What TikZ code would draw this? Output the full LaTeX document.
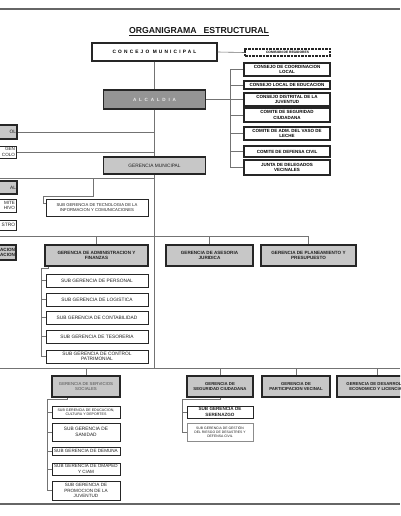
\documentclass[tikz,border=0pt]{standalone}
\usepackage{fontspec}
\setmainfont{Liberation Sans}
\usetikzlibrary{calc}
\begin{document}
\begin{tikzpicture}[x=1pt,y=-1pt,
 conn/.style={draw=black!55, line width=0.6pt},
 base/.style={draw=black!85, line width=1.2pt, inner sep=0pt, align=center, text=black!88, font=\fontsize{4.8}{5.6}\selectfont},
 gbox/.style={base, fill=black!22},
 gboxb/.style={gbox, font=\bfseries\fontsize{4.6}{5.6}\selectfont},
 wbox/.style={base, fill=white, line width=1pt},
 cbox/.style={base, fill=white, line width=1.1pt, text=black, font=\bfseries\fontsize{4.5}{5.2}\selectfont},
 sz/.style 2 args={minimum width=#1, minimum height=#2},
 rulebar/.style={draw=black!60, line width=1.6pt}]
\useasboundingbox (0,0) rectangle (400,516);
\clip (0,0) rectangle (400,516);
\fill[white] (0,0) rectangle (400,516);

% frame rules
\coordinate (tl) at (0,9); \coordinate (tr) at (400,9);
\coordinate (bl) at (0,504); \coordinate (br) at (400,504);
\draw[rulebar] (tl) -- (tr);
\draw[rulebar] (bl) -- (br);

\node[font=\bfseries\fontsize{8.7}{10}\selectfont, text=black!90] (title) at (199,31.5) {\underline{ORGANIGRAMA\hspace{0.8em}ESTRUCTURAL}};

% top
\node[wbox, line width=1.2pt, sz={125}{18}, text=black, font=\bfseries\fontsize{4.8}{5}\selectfont\addfontfeatures{LetterSpace=45}] (concejo) at (154.5,52) {CONCEJO MUNICIPAL};
\node[gbox, fill=black!42, sz={102}{19}, text=black!8, font=\bfseries\fontsize{4.6}{5}\selectfont\addfontfeatures{LetterSpace=60}] (alc) at (154.5,99.5) {ALCALDIA};
\node[base, dashed, dash pattern=on 2.5pt off 1pt, fill=white, sz={85}{7}, text=black, font=\bfseries\fontsize{3.3}{4}\selectfont] (com) at (287.5,52.5) {COMISION DE REGIDORES};

% consejos
\node[cbox, sz={86}{13}] (c1) at (287,69.5) {CONSEJO DE COORDINACION\\LOCAL};
\node[cbox, sz={86}{8}] (c2) at (287,85) {CONSEJO LOCAL DE EDUCACION};
\node[cbox, sz={86}{13}] (c3) at (287,99.5) {CONSEJO DISTRITAL DE LA\\JUVENTUD};
\node[cbox, sz={86}{14}] (c4) at (287,115) {COMITE DE SEGURIDAD\\CIUDADANA};
\node[cbox, sz={86}{13}] (c5) at (287,133.5) {COMITE DE ADM. DEL VASO DE\\LECHE};
\node[cbox, sz={86}{11}] (c6) at (287,151.5) {COMITE DE DEFENSA CIVIL};
\node[cbox, sz={86}{15}] (c7) at (287,167.5) {JUNTA DE DELEGADOS\\VECINALES};

\node[gbox, sz={102}{17}] (gm) at (154.5,165.5) {GERENCIA MUNICIPAL};

% left cut-off boxes
\node[gbox, sz={40}{14}, text width=38, align=right] (l1) at (-3,132) {OL};
\node[wbox, sz={40}{12}, text width=38, align=right, font=\fontsize{4.6}{5.4}\selectfont] (l2) at (-4,152) {GEN\\COLO};
\node[gbox, sz={40}{13}, text width=38, align=right] (l3) at (-3,187.5) {AL};
\node[wbox, sz={40}{13}, text width=38, align=right, font=\fontsize{4.6}{5.4}\selectfont] (l4) at (-4,205.5) {MITE\\HIVO};
\node[wbox, sz={40}{10}, text width=38, align=right] (l5) at (-4,225) {STRO};
\node[gboxb, sz={40}{15}, text width=38, align=right] (l6) at (-4,252.5) {ACION\\ACION};

\node[wbox, sz={102}{17}, font=\fontsize{4.2}{5}\selectfont] (tech) at (97,207.5) {SUB GERENCIA DE TECNOLOGIA DE LA\\INFORMACION Y COMUNICACIONES};

% gerencias row 1
\node[gboxb, sz={103}{21}] (adm) at (96.5,255.5) {GERENCIA DE ADMINISTRACION Y\\FINANZAS};
\node[gboxb, sz={87}{21}] (ases) at (209.5,255.5) {GERENCIA DE ASESORIA\\JURIDICA};
\node[gboxb, sz={95}{21}] (plan) at (308.5,255.5) {GERENCIA DE PLANEAMIENTO Y\\PRESUPUESTO};

% admin subs
\node[wbox, sz={102}{13}] (s1) at (97,280.5) {SUB GERENCIA DE PERSONAL};
\node[wbox, sz={102}{13}] (s2) at (97,299.5) {SUB GERENCIA DE LOGISTICA};
\node[wbox, sz={102}{13}] (s3) at (97,317.5) {SUB GERENCIA DE CONTABILIDAD};
\node[wbox, sz={102}{13}] (s4) at (97,336.5) {SUB GERENCIA DE TESORERIA};
\node[wbox, sz={102}{13}] (s5) at (97,356.5) {SUB GERENCIA DE CONTROL\\PATRIMONIAL};

% gerencias row 2
\node[gbox, sz={68}{21}, text=black!70, font=\fontsize{4.3}{5.6}\selectfont] (serv) at (86,386.5) {GERENCIA DE SERVICIOS\\SOCIALES};
\node[gboxb, sz={66}{21}, font=\bfseries\fontsize{4.3}{5.6}\selectfont] (seg) at (220,386.5) {GERENCIA DE\\SEGURIDAD CIUDADANA};
\node[gboxb, sz={68}{21}, font=\bfseries\fontsize{4.3}{5.6}\selectfont] (part) at (296,386.5) {GERENCIA DE\\PARTICIPACION VECINAL};
\node[gboxb, sz={80}{21}, font=\bfseries\fontsize{4.3}{5.6}\selectfont] (des) at (377,386.5) {GERENCIA DE DESARROLLO\\ECONOMICO Y LICENCIAS};

% servicios subs
\node[wbox, sz={68}{12}, font=\fontsize{3.6}{4.4}\selectfont] (ss1) at (86,412) {SUB GERENCIA DE EDUCACION,\\CULTURA Y DEPORTES};
\node[wbox, sz={68}{18}, font=\fontsize{4.8}{5.8}\selectfont] (ss2) at (86,432) {SUB GERENCIA DE\\SANIDAD};
\node[wbox, sz={68}{8}, font=\fontsize{4.6}{5.4}\selectfont] (ss3) at (86,451) {SUB GERENCIA DE DEMUNA};
\node[wbox, sz={68}{12}, font=\fontsize{4.6}{5.4}\selectfont] (ss4) at (86,469) {SUB GERENCIA DE OMAPED\\Y CIAM};
\node[wbox, sz={68}{19}, font=\fontsize{4.6}{5.4}\selectfont] (ss5) at (86,490.5) {SUB GERENCIA DE\\PROMOCION DE LA\\JUVENTUD};

% seguridad subs
\node[wbox, sz={66}{12}, font=\bfseries\fontsize{4.6}{5.4}\selectfont] (sc1) at (220,412) {SUB GERENCIA DE\\SERENAZGO};
\node[wbox, draw=black!45, line width=0.7pt, sz={66}{18}, font=\fontsize{3.4}{4.2}\selectfont] (sc2) at (220,432) {SUB GERENCIA DE GESTIÓN\\DEL RIESGO DE DESASTRES Y\\DEFENSA CIVIL};

% ---- connectors ----
\draw[conn] (concejo.south) -- (alc.north);
\draw[conn] (alc.south) -- (gm.north);
\draw[conn] (concejo.east) -- (com.west);

\coordinate (csp) at (230,69.5);
\coordinate (cspe) at (230,167.5);
\draw[conn] (csp) -- (cspe);
\draw[conn] (alc.east) -- (alc.east -| csp);
\foreach \c in {c1,c2,c3,c4,c5,c6,c7}{\draw[conn] (\c.west -| csp) -- (\c.west);}

\draw[conn] (l1.east) -- (l1.east -| alc.south);
\draw[conn] (l2.east) -- (l2.east -| alc.south);

\coordinate (b1w) at (0,178);
\coordinate (tk) at (93,178);
\coordinate (tk2) at (43,196);
\coordinate (tk3) at (46,203);
\draw[conn] (b1w) -- (b1w -| gm.south);
\draw[conn] (tk) |- (tk2) |- (tk3);

\coordinate (b2w) at (0,236);
\draw[conn] (b2w) -- (b2w -| plan.north) -- (plan.north);
\draw[conn] (b2w -| adm.north) -- (adm.north);
\draw[conn] (b2w -| ases.north) -- (ases.north);

\coordinate (asp) at (41,268);
\draw[conn] ($(adm.south west)+(4,0)$) |- (asp) -- (asp |- s5.west);
\foreach \s in {s1,s2,s3,s4,s5}{\draw[conn] (\s.west -| asp) -- (\s.west);}

\coordinate (b3w) at (0,368);
\coordinate (b3e) at (400,368);
\draw[conn] (b3w) -- (b3e);
\draw[conn] (gm.south) -- (gm.south |- b3w);
\foreach \g in {serv,seg,part,des}{\draw[conn] (\g.north |- b3w) -- (\g.north);}

\coordinate (ssp) at (47,399);
\draw[conn] ($(serv.south west)+(16,0)$) |- (ssp) -- (ssp |- ss5.west);
\foreach \s in {ss1,ss2,ss3,ss4,ss5}{\draw[conn] (\s.west -| ssp) -- (\s.west);}

\coordinate (scp) at (182,399);
\draw[conn] (seg.south) |- (scp) -- (scp |- sc2.west);
\foreach \s in {sc1,sc2}{\draw[conn] (\s.west -| scp) -- (\s.west);}
\end{tikzpicture}
\end{document}
